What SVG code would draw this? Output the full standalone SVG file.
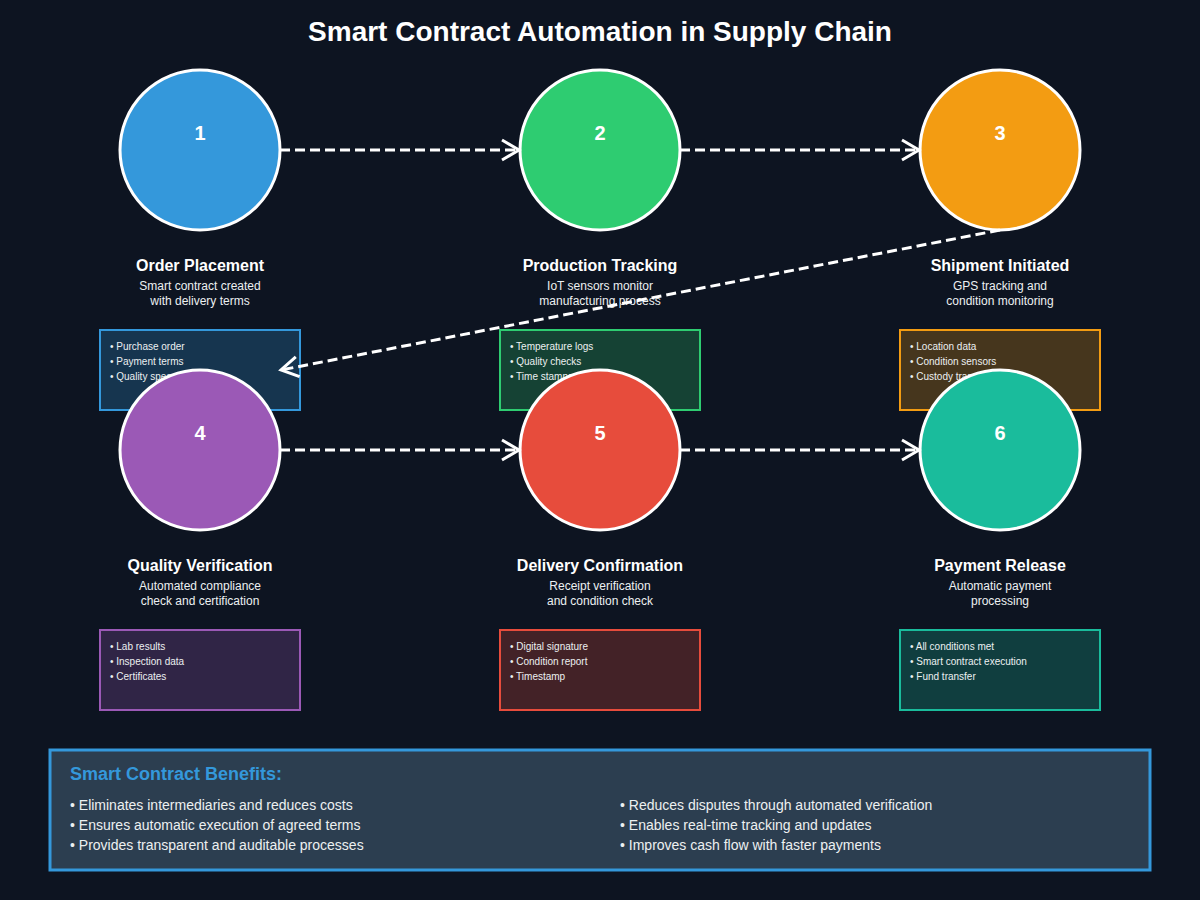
<svg xmlns="http://www.w3.org/2000/svg" width="1200" height="900" viewBox="0 0 1200 900">
<style>
text{font-family:"Liberation Sans",Arial,sans-serif}
.title{font-size:28px;font-weight:bold;fill:#ffffff;text-anchor:middle}
.num{font-size:20px;font-weight:bold;fill:#ffffff;text-anchor:middle}
.lbl{font-size:16px;font-weight:bold;fill:#ffffff;text-anchor:middle}
.desc{font-size:12px;fill:#ecf0f1;text-anchor:middle}
.item{font-size:10px;fill:#ecf0f1}
.circ{stroke:#ffffff;stroke-width:3}
.box{stroke-width:2}
.conn{stroke:#ffffff;stroke-width:3;stroke-dasharray:10,5;fill:none}
.bhead{font-size:18px;font-weight:bold;fill:#3498db}
.btext{font-size:14px;fill:#ecf0f1}
</style>
<defs>
<marker id="arr" markerUnits="userSpaceOnUse" markerWidth="30" markerHeight="30" viewBox="-20 -15 30 30" refX="0" refY="0" orient="auto">
<path d="M-17,-10 L0,0 L-17,10" fill="none" stroke="#ffffff" stroke-width="3"/>
</marker>
</defs>
<rect x="0" y="0" width="1200" height="900" fill="#0d1421"/>
<text class="title" x="600" y="41">Smart Contract Automation in Supply Chain</text>

<g id="node1">
<circle class="circ" cx="200" cy="150" r="80" fill="#3498db"/>
<text class="num" x="200" y="140">1</text>
<text class="lbl" x="200" y="271">Order Placement</text>
<text class="desc" x="200" y="290">Smart contract created</text>
<text class="desc" x="200" y="305">with delivery terms</text>
<rect class="box" x="100" y="330" width="200" height="80" fill="#3498db" fill-opacity="0.25" stroke="#3498db"/>
<text class="item" x="110" y="350">• Purchase order</text>
<text class="item" x="110" y="365">• Payment terms</text>
<text class="item" x="110" y="380">• Quality specs</text>
</g>
<g id="node2">
<circle class="circ" cx="600" cy="150" r="80" fill="#2ecc71"/>
<text class="num" x="600" y="140">2</text>
<text class="lbl" x="600" y="271">Production Tracking</text>
<text class="desc" x="600" y="290">IoT sensors monitor</text>
<text class="desc" x="600" y="305">manufacturing process</text>
<rect class="box" x="500" y="330" width="200" height="80" fill="#2ecc71" fill-opacity="0.25" stroke="#2ecc71"/>
<text class="item" x="510" y="350">• Temperature logs</text>
<text class="item" x="510" y="365">• Quality checks</text>
<text class="item" x="510" y="380">• Time stamps</text>
</g>
<g id="node3">
<circle class="circ" cx="1000" cy="150" r="80" fill="#f39c12"/>
<text class="num" x="1000" y="140">3</text>
<text class="lbl" x="1000" y="271">Shipment Initiated</text>
<text class="desc" x="1000" y="290">GPS tracking and</text>
<text class="desc" x="1000" y="305">condition monitoring</text>
<rect class="box" x="900" y="330" width="200" height="80" fill="#f39c12" fill-opacity="0.25" stroke="#f39c12"/>
<text class="item" x="910" y="350">• Location data</text>
<text class="item" x="910" y="365">• Condition sensors</text>
<text class="item" x="910" y="380">• Custody transfer</text>
</g>
<g id="node4">
<circle class="circ" cx="200" cy="450" r="80" fill="#9b59b6"/>
<text class="num" x="200" y="440">4</text>
<text class="lbl" x="200" y="571">Quality Verification</text>
<text class="desc" x="200" y="590">Automated compliance</text>
<text class="desc" x="200" y="605">check and certification</text>
<rect class="box" x="100" y="630" width="200" height="80" fill="#9b59b6" fill-opacity="0.25" stroke="#9b59b6"/>
<text class="item" x="110" y="650">• Lab results</text>
<text class="item" x="110" y="665">• Inspection data</text>
<text class="item" x="110" y="680">• Certificates</text>
</g>
<g id="node5">
<circle class="circ" cx="600" cy="450" r="80" fill="#e74c3c"/>
<text class="num" x="600" y="440">5</text>
<text class="lbl" x="600" y="571">Delivery Confirmation</text>
<text class="desc" x="600" y="590">Receipt verification</text>
<text class="desc" x="600" y="605">and condition check</text>
<rect class="box" x="500" y="630" width="200" height="80" fill="#e74c3c" fill-opacity="0.25" stroke="#e74c3c"/>
<text class="item" x="510" y="650">• Digital signature</text>
<text class="item" x="510" y="665">• Condition report</text>
<text class="item" x="510" y="680">• Timestamp</text>
</g>
<g id="node6">
<circle class="circ" cx="1000" cy="450" r="80" fill="#1abc9c"/>
<text class="num" x="1000" y="440">6</text>
<text class="lbl" x="1000" y="571">Payment Release</text>
<text class="desc" x="1000" y="590">Automatic payment</text>
<text class="desc" x="1000" y="605">processing</text>
<rect class="box" x="900" y="630" width="200" height="80" fill="#1abc9c" fill-opacity="0.25" stroke="#1abc9c"/>
<text class="item" x="910" y="650">• All conditions met</text>
<text class="item" x="910" y="665">• Smart contract execution</text>
<text class="item" x="910" y="680">• Fund transfer</text>
</g>

<g id="connectors">
<line class="conn" x1="280" y1="150" x2="519" y2="150" marker-end="url(#arr)"/>
<line class="conn" x1="680" y1="150" x2="919" y2="150" marker-end="url(#arr)"/>
<line class="conn" x1="1000" y1="230" x2="281" y2="370" marker-end="url(#arr)"/>
<line class="conn" x1="280" y1="450" x2="519" y2="450" marker-end="url(#arr)"/>
<line class="conn" x1="680" y1="450" x2="919" y2="450" marker-end="url(#arr)"/>
</g>

<g id="benefits">
<rect x="50" y="750" width="1100" height="120" fill="#2c3e50" stroke="#3498db" stroke-width="3"/>
<text class="bhead" x="70" y="780">Smart Contract Benefits:</text>
<text class="btext" x="70" y="810">• Eliminates intermediaries and reduces costs</text>
<text class="btext" x="70" y="830">• Ensures automatic execution of agreed terms</text>
<text class="btext" x="70" y="850">• Provides transparent and auditable processes</text>
<text class="btext" x="620" y="810">• Reduces disputes through automated verification</text>
<text class="btext" x="620" y="830">• Enables real-time tracking and updates</text>
<text class="btext" x="620" y="850">• Improves cash flow with faster payments</text>
</g>
</svg>
